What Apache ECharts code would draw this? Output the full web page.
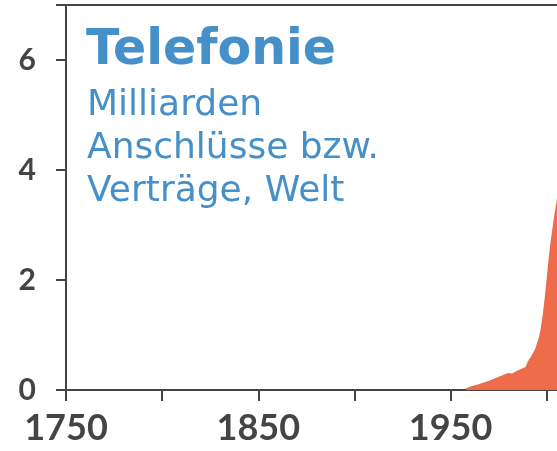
<!DOCTYPE html>
<html>
<head>
<meta charset="utf-8">
<script src="https://cdn.jsdelivr.net/npm/echarts@6/dist/echarts.min.js"></script>
<style>
  html, body { margin: 0; padding: 0; background: #fff; }
  #u4 { width: 557px; height: 451px; }
</style>
</head>
<body>
<div id="u4"></div>
<script>
// Jahre und Werte (Milliarden Anschlüsse)
var years = [1958, 1960, 1965, 1970, 1975, 1980, 1981, 1982, 1985, 1989, 1990, 1992, 1994, 1995, 1996, 1997, 1998, 1999, 2000, 2001, 2002, 2003, 2004, 2005, 2006];
var values = [0.03, 0.06, 0.11, 0.17, 0.24, 0.31, 0.33, 0.30, 0.36, 0.42, 0.51, 0.62, 0.75, 0.86, 0.97, 1.15, 1.4, 1.7, 2.05, 2.4, 2.7, 2.95, 3.2, 3.4, 3.7];
var xLabels = [1750, 1850, 1950];
var yLabels = [0, 2, 4, 6];

var dark = '#444444';
var blue = '#4590c8';

let myChart1 = echarts.init(document.getElementById('u4'));
var option = {
  animation: false,
  grid: {
    left: 66,
    top: 5,
    bottom: 61,
    width: 500,
    outerBoundsMode: 'none',
    containLabel: false,
    show: true,
    borderColor: dark,
    borderWidth: 2
  },
  xAxis: {
    type: 'value',
    min: 1750,
    max: 2010,
    interval: 50,
    splitLine: { show: false },
    axisLine: { lineStyle: { color: dark, width: 2 } },
    axisTick: { length: 11, lineStyle: { color: dark, width: 2 } },
    axisLabel: {
      margin: 20,
      color: dark,
      fontFamily: 'Lato',
      fontWeight: 'bold',
      fontSize: 36,
      formatter: function (v) { return xLabels.indexOf(v) >= 0 ? String(v) : ''; }
    }
  },
  yAxis: {
    type: 'value',
    min: 0,
    max: 7,
    interval: 2,
    splitLine: { show: false },
    axisLine: { lineStyle: { color: dark, width: 2 } },
    axisTick: { length: 10, lineStyle: { color: dark, width: 2 } },
    axisLabel: {
      margin: 30,
      color: dark,
      fontFamily: 'Lato',
      fontWeight: 'bold',
      fontSize: 30,
      formatter: function (v) { return yLabels.indexOf(v) >= 0 ? String(v) : ''; }
    }
  },
  graphic: [
    { type: 'text', left: 86, top: 27, style: { text: 'Telefonie', fill: blue, font: 'bold 49px "DejaVu Sans"' } },
    { type: 'text', left: 87, top: 88, style: { text: 'Milliarden', fill: blue, font: '36px "DejaVu Sans"' } },
    { type: 'text', left: 87, top: 131, style: { text: 'Anschlüsse bzw.', fill: blue, font: '36px "DejaVu Sans"' } },
    { type: 'text', left: 87, top: 174, style: { text: 'Verträge, Welt', fill: blue, font: '36px "DejaVu Sans"' } }
  ],
  series: [
    {
      type: 'line',
      data: years.map(function (y, i) { return [y, values[i]]; }),
      showSymbol: false,
      lineStyle: { width: 0 },
      areaStyle: { color: '#ef6c4a', opacity: 1 },
      z: 1
    }
  ]
};

myChart1.setOption(option);
</script>
</body>
</html>
